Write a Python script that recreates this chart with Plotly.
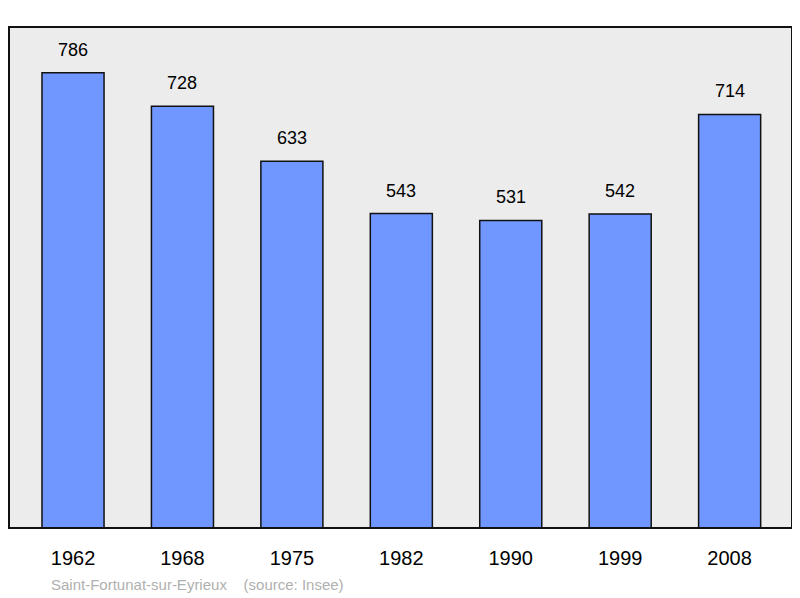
import plotly.graph_objects as go

years = ["1962", "1968", "1975", "1982", "1990", "1999", "2008"]
population = [786, 728, 633, 543, 531, 542, 714]

xs = list(range(len(years)))
fig = go.Figure(go.Bar(
    x=xs, y=population, width=0.567,
    marker=dict(color="#7097ff", line=dict(color="#111111", width=1.5)),
))
ann = [dict(x=x, y=v, text=str(v), showarrow=False, yanchor="bottom", yshift=11,
            font=dict(family="Liberation Sans, Arial", size=18, color="black"))
       for x, v in zip(xs, population)]
ann.append(dict(text="Saint-Fortunat-sur-Eyrieux    (source: Insee)", xref="paper", yref="paper",
                x=(49 - 9) / 783, y=-0.112, xanchor="left", yanchor="middle", showarrow=False,
                font=dict(family="Liberation Sans, Arial", size=15, color="#b0b0b0")))
fig.update_layout(
    width=792, height=590, margin=dict(l=1, r=8, t=19, b=70),
    paper_bgcolor="white", plot_bgcolor="#ececec", showlegend=False,
    xaxis=dict(range=[-0.585, 6.57], tickmode="array", tickvals=xs,
               ticktext=years, showgrid=False, zeroline=False, ticks="outside",
               ticklen=12, tickcolor="rgba(0,0,0,0)",
               tickfont=dict(family="Liberation Sans, Arial", size=20, color="black")),
    yaxis=dict(range=[0, 865], visible=False),
    shapes=[dict(type="rect", xref="paper", yref="paper", x0=0, y0=0, x1=1, y1=1,
                 line=dict(color="#111111", width=2))],
    annotations=ann,
)
fig.write_html("out.html")
